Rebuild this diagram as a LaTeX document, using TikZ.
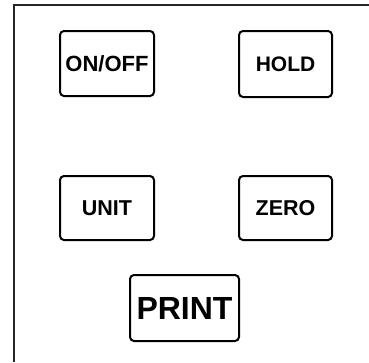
\documentclass[tikz,border=0pt]{standalone}
\usepackage{fontspec}
\setmainfont{Liberation Sans}
\begin{document}
\begin{tikzpicture}[x=1pt,y=-1pt,
  btn/.style={draw=black, line width=2pt, rounded corners=4pt, minimum width=#1, inner sep=0pt, font=\bfseries},
  frameline/.style={draw=black!85, line width=2.6pt}]
\useasboundingbox (0,0) rectangle (369,362);
\fill[white] (0,0) rectangle (369,362);
\coordinate (tl) at (14,5);
\coordinate (tr) at (369,5);
\coordinate (bl) at (14,362);
\draw[frameline] (tr) -- (tl) -- (bl);
\node[btn=94pt, minimum height=65pt, font=\bfseries\fontsize{22}{24}\selectfont] (onoff) at (107,63.5) {ON/OFF};
\node[btn=93pt, minimum height=66pt, font=\bfseries\fontsize{21}{24}\selectfont] (hold) at (285.5,64) {HOLD};
\node[btn=94pt, minimum height=64pt, font=\bfseries\fontsize{21.5}{24}\selectfont] (unit) at (107,208) {UNIT};
\node[btn=93pt, minimum height=64pt, font=\bfseries\fontsize{21.5}{24}\selectfont] (zero) at (285.5,208) {ZERO};
\node[btn=109pt, minimum height=66pt, font=\bfseries\fontsize{32}{34}\selectfont] (print) at (184.5,308) {PRINT};
\end{tikzpicture}
\end{document}
